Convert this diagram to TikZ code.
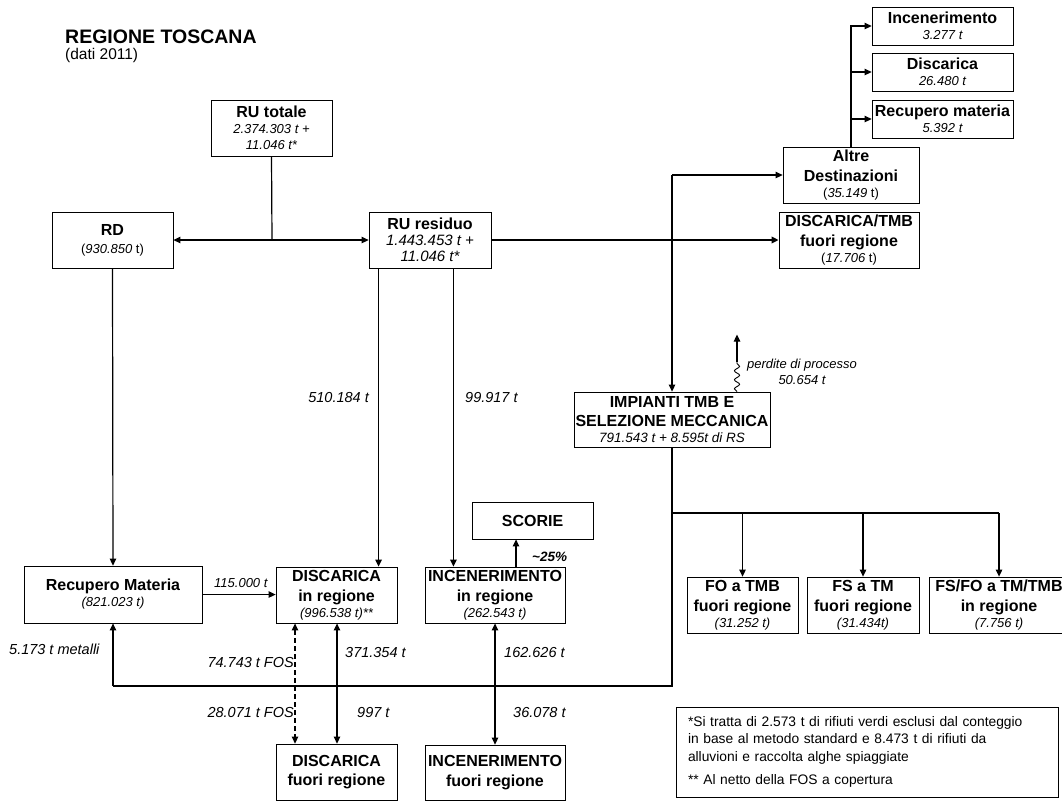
\documentclass[tikz,border=0pt]{standalone}
\usepackage{fontspec}
\setmainfont{Liberation Sans}
\usetikzlibrary{arrows.meta,decorations.pathmorphing}
\newcommand{\boxtitle}[1]{{\fontsize{16}{16}\selectfont\bfseries #1}}
\newcommand{\boxval}[1]{{\fontsize{13}{16}\selectfont\itshape #1}}
\newcommand{\boxvalb}[1]{{\fontsize{15}{16}\selectfont\itshape #1}}
\begin{document}
\begin{tikzpicture}[x=1pt,y=-1pt,
  box/.style={draw, line width=0.8pt, inner sep=0pt, align=center, fill=white,
    font=\fontsize{13}{16}\selectfont},
  tip/.tip={Triangle[length=7pt,width=6.5pt]},
  ln/.style={line width=1.2pt},
  arr/.style={line width=1.2pt, -tip},
  darr/.style={line width=1.2pt, tip-tip},
  heavy/.style={line width=2pt},
  mid/.style={line width=1.5pt},
  lbl/.style={inner sep=0pt, font=\fontsize{14.5}{16}\selectfont\itshape},
  lbls/.style={inner sep=0pt, font=\fontsize{13}{16}\selectfont\itshape},
]
\useasboundingbox (0,0) rectangle (1062,801);

% titles
\node[anchor=base west, inner sep=0pt] (title) at (65,43) {\fontsize{19.5}{20}\selectfont\bfseries REGIONE TOSCANA};
\node[anchor=base west, inner sep=0pt] (subtitle) at (65,59) {\fontsize{15.5}{16}\selectfont (dati 2011)};

% boxes
\node[box, minimum width=121pt, minimum height=56pt] (rutot) at (271.5,128)
  {\boxtitle{RU totale}\\ \boxval{2.374.303 t +}\\ \boxval{11.046 t*}};
\node[box, minimum width=121pt, minimum height=56pt] (rd) at (112.5,240)
  {\boxtitle{RD}\\[2pt] (\textit{930.850} t)};
\node[box, minimum width=122pt, minimum height=56pt] (rures) at (430,240)
  {\boxtitle{RU residuo}\\ \boxvalb{1.443.453 t +}\\ \boxvalb{11.046 t*}};
\node[box, minimum width=136pt, minimum height=56pt] (alt) at (851,175)
  {\boxtitle{Altre}\\[3.5pt] \boxtitle{Destinazioni}\\ (\textit{35.149} t)};
\node[box, minimum width=140pt, minimum height=56pt] (dtmb) at (849,240)
  {\boxtitle{DISCARICA/TMB}\\[3.5pt] \boxtitle{fuori regione}\\ (\textit{17.706} t)};
\node[box, minimum width=141pt, minimum height=38pt] (inc1) at (942.5,26)
  {\boxtitle{Incenerimento}\\ \boxval{3.277 t}};
\node[box, minimum width=141pt, minimum height=38pt] (dis1) at (942.5,72)
  {\boxtitle{Discarica}\\ \boxval{26.480 t}};
\node[box, minimum width=141pt, minimum height=38pt] (rec1) at (942.5,119)
  {\boxtitle{Recupero materia}\\ \boxval{5.392 t}};
\node[box, minimum width=196pt, minimum height=55pt] (tmb) at (672,419.5)
  {\boxtitle{IMPIANTI TMB E}\\[3pt] \boxtitle{SELEZIONE MECCANICA}\\ {\fontsize{13.5}{16}\selectfont\itshape 791.543 t + 8.595t di RS}};
\node[box, minimum width=178pt, minimum height=57pt] (rec) at (113,594.5)
  {\boxtitle{Recupero Materia}\\ \boxval{(821.023 t)}};
\node[box, minimum width=121pt, minimum height=56pt] (dreg) at (336.5,595)
  {\boxtitle{DISCARICA}\\[3.5pt] \boxtitle{in regione}\\ \boxval{(996.538 t)**}};
\node[box, minimum width=140pt, minimum height=56pt] (ireg) at (495,595)
  {\boxtitle{INCENERIMENTO}\\[3.5pt] \boxtitle{in regione}\\ \boxval{(262.543 t)}};
\node[box, minimum width=121pt, minimum height=37pt] (scorie) at (532.5,520.5)
  {\boxtitle{SCORIE}};
\node[box, minimum width=121pt, minimum height=56pt] (dfuori) at (336.5,772)
  {\boxtitle{DISCARICA}\\[3.5pt] \boxtitle{fuori regione}};
\node[box, minimum width=140pt, minimum height=55pt] (ifuori) at (495,772.5)
  {\boxtitle{INCENERIMENTO}\\[3.5pt] \boxtitle{fuori regione}};
\node[box, minimum width=111pt, minimum height=56pt] (fo) at (742.5,605)
  {\boxtitle{FO a TMB}\\[3.5pt] \boxtitle{fuori regione}\\ \boxval{(31.252 t)}};
\node[box, minimum width=112pt, minimum height=56pt] (fs) at (863,605)
  {\boxtitle{FS a TM}\\[3.5pt] \boxtitle{fuori regione}\\ \boxval{(31.434t)}};
\node[box, minimum width=140pt, minimum height=56pt] (fsfo) at (999,605)
  {\boxtitle{FS/FO a TM/TMB}\\[3.5pt] \boxtitle{in regione}\\ \boxval{(7.756 t)}};

% footnote
\node[draw, line width=0.8pt, text width=358pt, inner xsep=12pt, inner ysep=0pt,
  minimum height=90pt, align=left, font=\fontsize{13.8}{17.5}\selectfont] (note) at (867,752)
  {*Si tratta di 2.573 t di rifiuti verdi esclusi dal conteggio\\
   in base al metodo standard e 8.473 t di rifiuti da\\
   alluvioni e raccolta alghe spiaggiate\\[6pt]
   ** Al netto della FOS a copertura};

% connectors: top part
\coordinate (j1) at (272,240);
\draw[ln] (rutot.south) -- (j1);
\draw[arr] (j1) -- (rd.east);
\draw[arr] (j1) -- (rures.west);
\draw[heavy, -tip] (rures.east) -- (dtmb.west);
\coordinate (j2) at (672,175);
\draw[arr] (j2) -- (alt.west);
\draw[arr] (j2) -- (tmb.north);
\draw[arr] (alt.north) |- (inc1.west);
\draw[arr] (alt.north |- dis1.west) -- (dis1.west);
\draw[arr] (alt.north |- rec1.west) -- (rec1.west);

% RD and RU residuo downwards
\draw[arr] (rd.south) -- (rec.north);
\draw[arr] ([xshift=10pt]rures.south west) coordinate (a1) -- (a1 |- dreg.north);
\draw[arr] ([xshift=-38pt]rures.south east) coordinate (a2) -- (a2 |- ireg.north);
\draw[arr] (rec.east) -- (rec.east -| dreg.west);
\draw[arr] ([xshift=21pt]ireg.north) coordinate (a3) -- (a3 |- scorie.south);

% process losses
\coordinate (w0) at ([xshift=65pt]tmb.north);
\coordinate (w1) at ([yshift=30pt]w0);
\coordinate (w2) at ([yshift=57pt]w0);
\draw[line width=0.9pt, decorate, decoration={snake, amplitude=2.6pt, segment length=9pt}] (w0) -- (w1);
\draw[arr] (w1) -- (w2);

% TMB outputs
\coordinate (h0) at (672,686);
\coordinate (hI) at (495,686);
\coordinate (hD) at (337,686);
\coordinate (hR) at (113,686);
\coordinate (b0) at (672,513);
\coordinate (b3) at (999,513);
\draw[heavy] (tmb.south) -- (h0) -- (hI);
\draw[mid] (b0) -- (b3);
\draw[arr] (fo.north |- b0) -- (fo.north);
\draw[arr] (fs.north |- b0) -- (fs.north);
\draw[arr] (b3) -- (fsfo.north);
\draw[ln] (hI) -- (hR);
\draw[arr] (hR) -- (rec.south);
\draw[arr] (hI) -- (ireg.south);
\draw[arr] (hI) -- (ifuori.north);
\draw[arr] (hD) -- (hD |- dreg.south);
\draw[arr] (hD) -- (hD |- dfuori.north);
\draw[darr, dash pattern=on 5pt off 3pt] ([xshift=-41.5pt]dreg.south) coordinate (a4) -- (a4 |- dfuori.north);

% labels
\node[lbl, anchor=east] (l510) at (369,397) {510.184 t};
\node[lbl, anchor=west] (l99) at (465,397) {99.917 t};
\node[lbls, anchor=west] (l115) at (214,583) {115.000 t};
\node[lbl, anchor=west] (l5173) at (9,649) {5.173 t metalli};
\node[lbl, anchor=east] (l74) at (294,662) {74.743 t FOS};
\node[lbl, anchor=east] (l28) at (294,712) {28.071 t FOS};
\node[lbl, anchor=west] (l371) at (345,652) {371.354 t};
\node[lbl, anchor=west] (l997) at (357,712) {997 t};
\node[lbl, anchor=west] (l162) at (504,652) {162.626 t};
\node[lbl, anchor=west] (l36) at (513,712) {36.078 t};
\node[inner sep=0pt, anchor=west, font=\fontsize{13.5}{16}\selectfont\bfseries\itshape] (l25) at (532,557) {\textasciitilde25\%};
\node[lbls, align=center] (lperd) at (802,372) {perdite di processo\\50.654 t};
\end{tikzpicture}
\end{document}
